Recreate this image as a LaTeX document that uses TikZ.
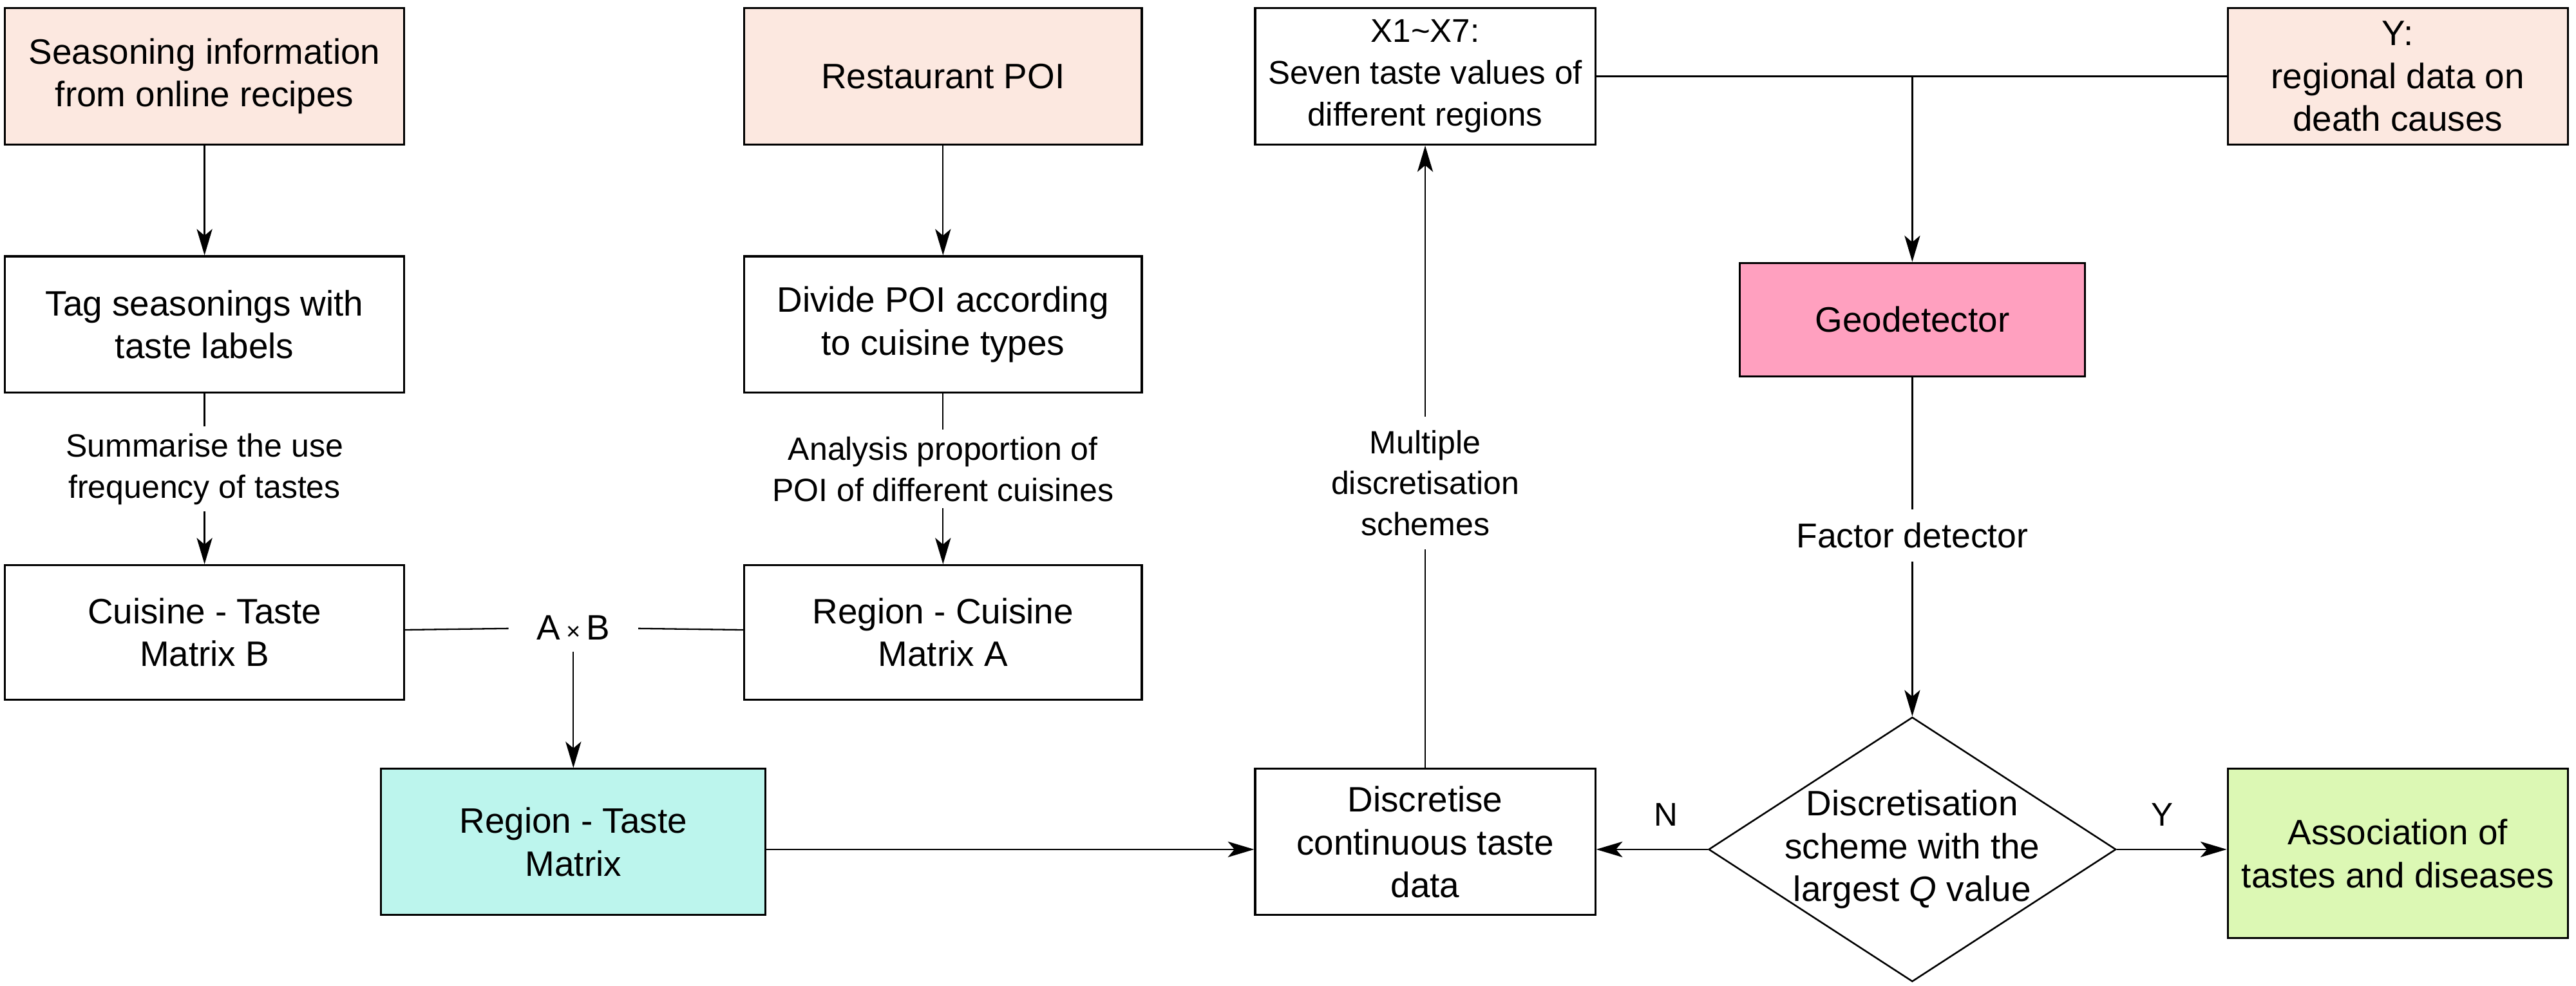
\documentclass[tikz,border=0pt]{standalone}
\usepackage{fontspec}
\setmainfont{Liberation Sans}
\usetikzlibrary{arrows.meta,shapes.geometric}
\definecolor{peach}{RGB}{252,232,224}
\definecolor{teal}{RGB}{188,245,237}
\definecolor{pinkg}{RGB}{255,160,191}
\definecolor{greenb}{RGB}{220,248,180}
\begin{document}
\begin{tikzpicture}[x=1pt,y=-1pt,
  box/.style={draw,line width=1.2pt,align=center,inner sep=0pt,
    font=\fontsize{21.5}{26}\selectfont},
  lbl/.style={align=center,inner sep=4pt,font=\fontsize{19.6}{25}\selectfont},
  conn/.style={line width=0.9pt},
  arr/.style={conn,-{Stealth[length=16pt,width=9.5pt,inset=4pt]}}]
\useasboundingbox (0,0) rectangle (1568,600);
% left column
\node[box,fill=peach,minimum width=243pt,minimum height=83pt] (seas) at (124.5,46.5) {Seasoning information\\from online recipes};
\node[box,minimum width=243pt,minimum height=83pt] (tag) at (124.5,197.5) {Tag seasonings with\\taste labels};
\node[box,minimum width=243pt,minimum height=82pt] (cuis) at (124.5,385) {Cuisine - Taste\\Matrix B};
% second column
\node[box,fill=peach,minimum width=242pt,minimum height=83pt] (rest) at (574,46.5) {Restaurant POI};
\node[box,minimum width=242pt,minimum height=83pt] (divide) at (574,197.5) {Divide POI according\\to cuisine types};
\node[box,minimum width=242pt,minimum height=82pt] (regcui) at (574,385) {Region - Cuisine\\Matrix A};
\node[lbl,inner xsep=17pt,inner ysep=7pt,font=\fontsize{21.5}{26}\selectfont] (axb) at (349,382) {A\,{\fontsize{15}{15}\selectfont ×}\,B};
\node[box,fill=teal,minimum width=234pt,minimum height=89pt] (regtaste) at (349,512.5) {Region - Taste\\Matrix};
% third column
\node[box,minimum width=207pt,minimum height=89pt] (disc) at (867.5,512.5) {Discretise\\continuous taste\\data};
\node[box,minimum width=207pt,minimum height=83pt,font=\fontsize{20}{25.5}\selectfont] (x17) at (867.5,46.5) {X1\textasciitilde X7:\\Seven taste values of\\different regions};
% right part
\node[box,fill=peach,minimum width=207pt,minimum height=83pt] (ybox) at (1459.5,46.5) {Y:\\regional data on\\death causes};
\node[box,fill=pinkg,minimum width=210pt,minimum height=69pt] (geo) at (1164,194.5) {Geodetector};
\node[diamond,draw,line width=1pt,aspect=1.54,minimum width=248pt,minimum height=161pt,inner sep=0pt] (dia) at (1164,517) {};
\node[align=center,font=\fontsize{21.5}{26}\selectfont] (diat) at (dia) {Discretisation\\scheme with the\\largest \textit{Q} value};
\node[box,fill=greenb,minimum width=207pt,minimum height=103pt] (assoc) at (1459.5,519.5) {Association of\\tastes and diseases};
% labels
\node[lbl] (sum) at (124.5,285.5) {Summarise the use\\frequency of tastes};
\node[lbl] (ana) at (574,285.5) {Analysis proportion of\\POI of different cuisines};
\node[lbl,inner ysep=8pt] (mult) at (867.5,294) {Multiple\\discretisation\\schemes};
\node[lbl,inner ysep=8pt,font=\fontsize{21}{25}\selectfont] (fac) at (1164,326) {Factor detector};
\node[font=\fontsize{20}{24}\selectfont] (nl) at (1014,496) {N};
\node[font=\fontsize{20}{24}\selectfont] (yl) at (1316,496) {Y};
% connectors
\draw[arr] (seas) -- (tag);
\draw[conn] (tag) -- (sum);
\draw[arr] (sum) -- (cuis);
\draw[arr] (rest) -- (divide);
\draw[conn] (divide) -- (ana);
\draw[arr] (ana) -- (regcui);
\draw[conn] (cuis) -- (axb);
\draw[conn] (regcui) -- (axb);
\draw[arr] (axb) -- (regtaste);
\draw[arr] (regtaste.east |- dia) -- (disc.west |- dia);
\draw[conn] (disc) -- (mult);
\draw[arr] (mult) -- (x17);
\draw[conn] (x17) -- (ybox);
\coordinate (j) at (geo.north |- x17.east);
\draw[arr] (j) -- (geo);
\draw[conn] (geo) -- (fac);
\draw[arr] (fac) -- (dia);
\draw[arr] (dia.west) -- (disc.east |- dia.west);
\draw[arr] (dia.east) -- (assoc.west |- dia.east);
\end{tikzpicture}
\end{document}
